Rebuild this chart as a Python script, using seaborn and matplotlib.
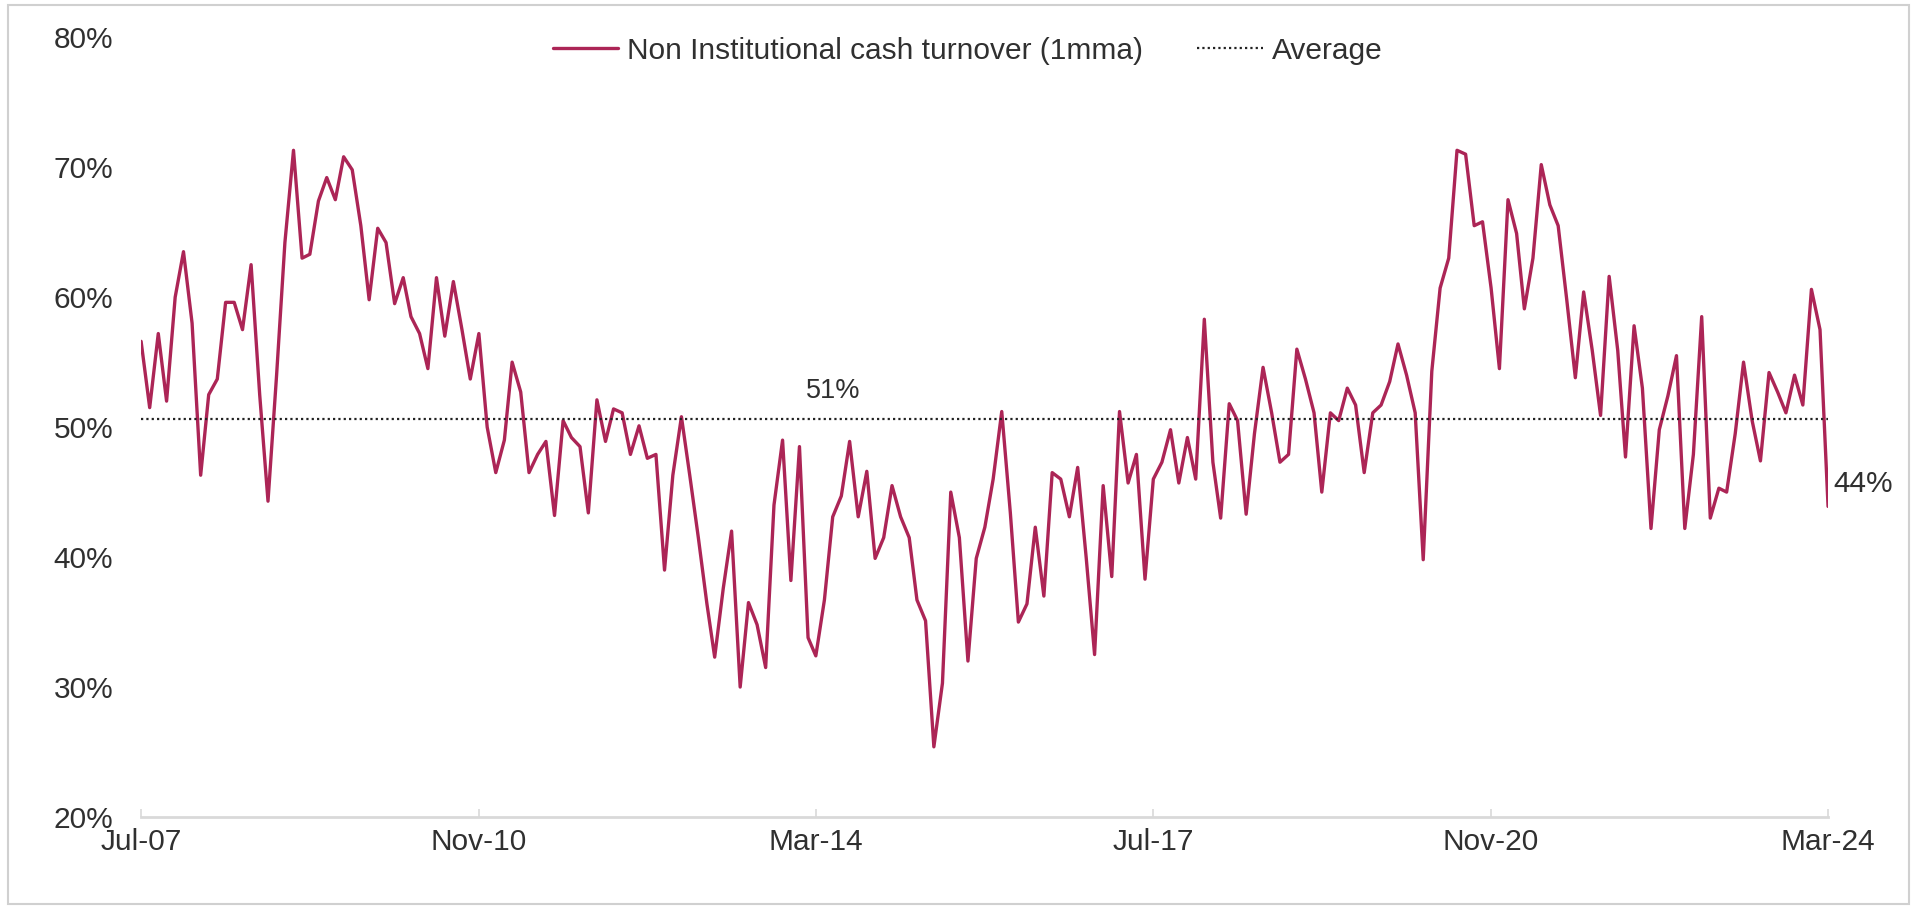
import pandas as pd
import seaborn as sns
import matplotlib.pyplot as plt
import matplotlib.dates as mdates
from matplotlib.ticker import FuncFormatter
from matplotlib.patches import Rectangle

# monthly values (%), Jul-07 .. Mar-24
turnover = [
    # Jul-07 .. Jul-09
    56.6, 51.5, 57.2, 52.0, 60.0, 63.5, 58.0, 46.3, 52.5, 53.7,
    59.6, 59.6, 57.5, 62.5, 52.5, 44.3, 54.0, 64.2, 71.3, 63.0,
    63.3, 67.4, 69.2, 67.5, 70.8,
    # Aug-09 .. Aug-11
    69.8, 65.5, 59.8, 65.3, 64.2, 59.5, 61.5, 58.5, 57.2, 54.5,
    61.5, 57.0, 61.2, 57.5, 53.7, 57.2, 50.0, 46.5, 49.0, 55.0,
    52.7, 46.5, 47.9, 48.9, 43.2,
    # Sep-11 .. Sep-13
    50.5, 49.2, 48.5, 43.4, 52.1, 48.9, 51.4, 51.1, 47.9, 50.1,
    47.6, 47.9, 39.0, 46.3, 50.8, 46.3, 41.5, 36.4, 32.3, 37.6,
    42.0, 30.0, 36.5, 34.8, 31.5,
    # Oct-13 .. Nov-15
    44.0, 49.0, 38.2, 48.5, 33.8, 32.4, 36.7, 43.1, 44.7, 48.9,
    43.1, 46.6, 39.9, 41.5, 45.5, 43.1, 41.5, 36.7, 35.1, 25.4,
    30.3, 45.0, 41.5, 32.0, 39.9, 42.3,
    # Dec-15 .. Dec-17
    46.0, 51.2, 43.4, 35.0, 36.4, 42.3, 37.0, 46.5, 46.0, 43.1,
    46.9, 39.9, 32.5, 45.5, 38.5, 51.2, 45.7, 47.9, 38.3, 46.0,
    47.3, 49.8, 45.7, 49.2, 46.0,
    # Jan-18 .. Feb-20
    58.3, 47.3, 43.0, 51.8, 50.5, 43.3, 49.5, 54.6, 51.1, 47.3,
    47.9, 56.0, 53.7, 51.1, 45.0, 51.1, 50.5, 53.0, 51.7, 46.5,
    51.1, 51.7, 53.5, 56.4, 54.0, 51.1,
    # Mar-20 .. Apr-22
    39.8, 54.3, 60.7, 63.0, 71.3, 71.0, 65.5, 65.8, 60.7, 54.5,
    67.5, 64.9, 59.1, 63.0, 70.2, 67.1, 65.5, 59.8, 53.8, 60.4,
    55.9, 50.9, 61.6, 55.9, 47.7, 57.8,
    # May-22 .. Mar-24
    53.0, 42.2, 49.8, 52.4, 55.5, 42.2, 47.9, 58.5, 43.0, 45.3,
    45.0, 49.5, 55.0, 50.5, 47.4, 54.2, 52.7, 51.1, 54.0, 51.7,
    60.6, 57.5, 43.9,
]
dates = pd.date_range('2007-07-01', '2024-03-01', freq='MS')
average = 50.6
avg_label = '51%'
avg_label_date = '2014-05-01'
tick_dates = ['2007-07-01', '2010-11-01', '2014-03-01', '2017-07-01', '2020-11-01', '2024-03-01']
y_ticks = [20, 30, 40, 50, 60, 70, 80]

df = pd.DataFrame({'date': dates, 'turnover': turnover})

sns.set_theme(style='white')
plt.rcParams['font.family'] = ['Liberation Sans', 'DejaVu Sans']
text_col = '#303030'
line_col = '#AC2556'
fs = 21.5

fig = plt.figure(figsize=(19.17, 9.08), dpi=100)
ax = fig.add_axes([0.0736, 0.1002, 0.88, 0.8588])

sns.lineplot(data=df, x='date', y='turnover', color=line_col, linewidth=2.4,
             ax=ax, label='Non Institutional cash turnover (1mma)')
ax.axhline(average, color='#222222', linestyle=(0, (1, 1.4)), linewidth=1.6, label='Average')

ax.text(pd.Timestamp(avg_label_date), average + 1.2, avg_label, ha='center', va='bottom',
        fontsize=19.5, color=text_col)
ax.annotate(f'{turnover[-1]:.0f}%', xy=(dates[-1], turnover[-1]), xytext=(4, 16),
            textcoords='offset points', ha='left', va='center', fontsize=fs, color=text_col)

ax.set_xlim(dates[0], dates[-1])
ax.set_ylim(20, 80)
ax.set_yticks(y_ticks)
ax.yaxis.set_major_formatter(FuncFormatter(lambda v, p: f'{v:.0f}%'))
ax.set_xticks(pd.to_datetime(tick_dates))
ax.xaxis.set_major_formatter(mdates.DateFormatter('%b-%y'))
ax.tick_params(axis='y', length=0, pad=20, labelsize=fs, labelcolor=text_col)
ax.tick_params(axis='x', direction='in', length=6, width=1.2, color='#D9D9D9',
               pad=8, labelsize=fs, labelcolor=text_col, bottom=True)
ax.set_xlabel('')
ax.set_ylabel('')

for side in ['top', 'right', 'left']:
    ax.spines[side].set_visible(False)
ax.spines['bottom'].set_color('#D9D9D9')
ax.spines['bottom'].set_linewidth(2)

ax.legend(loc='upper center', bbox_to_anchor=(0.49, 1.035), ncol=2, frameon=False,
          fontsize=fs, handlelength=2.2, columnspacing=1.8, handletextpad=0.3,
          labelcolor=text_col)

fig.patches.append(Rectangle((0.004, 0.004), 0.992, 0.99, transform=fig.transFigure,
                             fill=False, edgecolor='#D0D0D0', linewidth=1.5))

fig.savefig('out.png', dpi=100)
